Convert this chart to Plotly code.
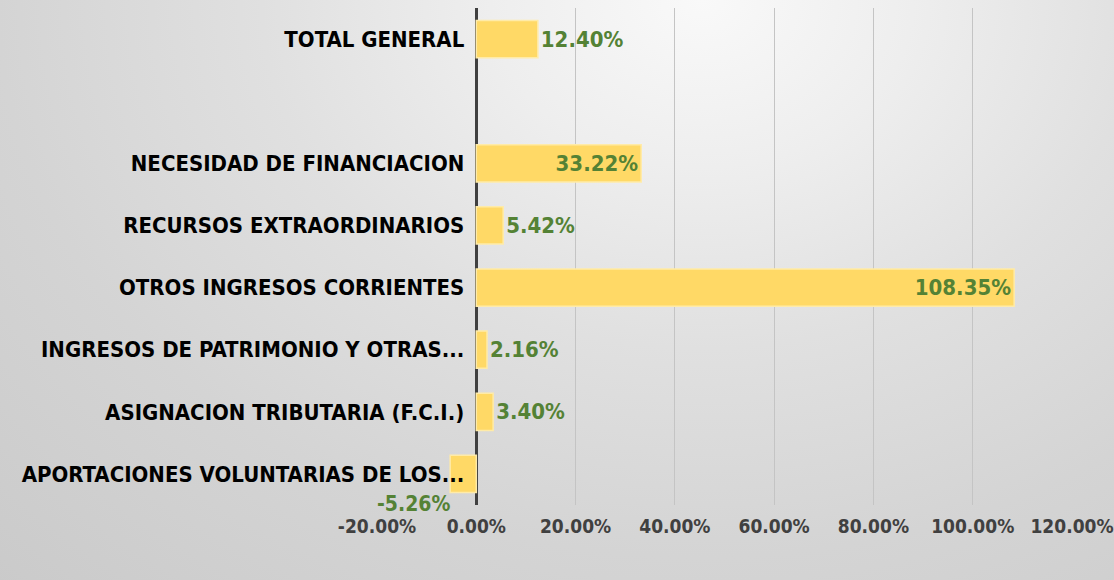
import plotly.graph_objects as go

# datos (orden de arriba hacia abajo)
categorias = [
    "TOTAL GENERAL",
    " ",
    "NECESIDAD DE FINANCIACION",
    "RECURSOS EXTRAORDINARIOS",
    "OTROS INGRESOS CORRIENTES",
    "INGRESOS DE PATRIMONIO Y OTRAS...",
    "ASIGNACION TRIBUTARIA (F.C.I.)",
    "APORTACIONES VOLUNTARIAS DE LOS...",
]
variacion = [12.40, None, 33.22, 5.42, 108.35, 2.16, 3.40, -5.26]
posicion_texto = ["outside", "none", "inside", "outside", "inside", "outside", "outside", "none"]

x_ticks = [-20, 0, 20, 40, 60, 80, 100, 120]

FUENTE = "DejaVu Sans Condensed"
VERDE = "#548235"

# geometría del área de trazado (en fracción de la página)
W, H = 1114, 580
x_dom = [377 / W, 1072 / W]
y_dom = [(H - 505) / H, (H - 8) / H]
pos_eje = x_dom[0] + (0 - x_ticks[0]) / (x_ticks[-1] - x_ticks[0]) * (x_dom[1] - x_dom[0])

fig = go.Figure()

# fondo degradado radial (claro arriba al centro)
fig.add_trace(go.Scatter(
    x=[-0.95, 2.21, 2.21, -0.95, -0.95],
    y=[-1.4, -1.4, 3.4, 3.4, -1.4],
    mode="lines", line=dict(width=0), fill="toself",
    fillgradient=dict(
        type="radial",
        colorscale=[[0, "#f9f9f9"], [0.12, "#eeeeee"], [0.25, "#e0e0e0"],
                    [0.4, "#d4d4d4"], [0.6, "#c9c9c9"], [1, "#bfbfbf"]],
    ),
    hoverinfo="skip", showlegend=False,
    xaxis="x", yaxis="y",
))

fig.add_trace(go.Bar(
    x=variacion,
    y=categorias,
    orientation="h",
    width=0.6,
    marker=dict(color="#FFD966", line=dict(color="#FFEBA8", width=1.5)),
    text=[f"{v:.2f}%" if v is not None else "" for v in variacion],
    textposition=posicion_texto,
    insidetextanchor="end",
    textfont=dict(family=FUENTE, size=22, color=VERDE, weight="bold"),
    cliponaxis=False,
    showlegend=False,
    xaxis="x2", yaxis="y2",
))

# etiqueta del valor negativo, debajo de la barra
fig.add_annotation(
    x=variacion[-1], y=categorias[-1], xref="x2", yref="y2",
    text=f"{variacion[-1]:.2f}%", showarrow=False,
    xanchor="right", yanchor="middle", yshift=-30, xshift=2,
    font=dict(family=FUENTE, size=21, color=VERDE, weight="bold"),
)

fig.update_layout(
    width=W, height=H,
    margin=dict(l=0, r=0, t=0, b=0, autoexpand=False),
    paper_bgcolor="#d8d8d8",
    plot_bgcolor="rgba(0,0,0,0)",
    xaxis=dict(domain=[0, 1], range=[0, 1], visible=False, fixedrange=True),
    yaxis=dict(domain=[0, 1], range=[0, 1], visible=False, fixedrange=True),
    xaxis2=dict(
        domain=x_dom, anchor="y2", automargin=False,
        range=[x_ticks[0], x_ticks[-1]],
        tickvals=x_ticks, ticktext=[f"{t:.2f}%" for t in x_ticks],
        showgrid=True, gridcolor="#c4c4c4", gridwidth=1,
        zeroline=True, zerolinecolor="#404040", zerolinewidth=3,
        showline=False, ticks="", ticklabelstandoff=8,
        tickfont=dict(family=FUENTE, size=19, color="#404040", weight="bold"),
    ),
    yaxis2=dict(
        domain=y_dom, anchor="free", position=pos_eje, automargin=False,
        categoryorder="array", categoryarray=categorias,
        autorange="reversed",
        showgrid=False, zeroline=False, showline=False, ticks="",
        ticklabelstandoff=12,
        tickfont=dict(family=FUENTE, size=22, color="#000000", weight="bold"),
    ),
)

fig.write_html("out.html", config={"displayModeBar": False},
               post_script="document.body.style.margin='0';")
